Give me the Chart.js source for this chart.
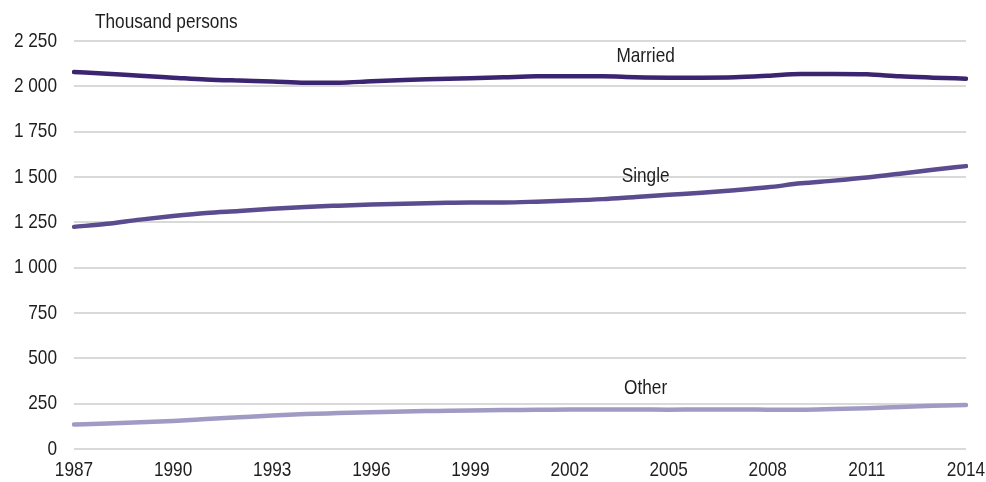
<!DOCTYPE html>
<html>
<head>
<meta charset="utf-8">
<script src="https://cdn.jsdelivr.net/npm/chart.js@4.4.1/dist/chart.umd.min.js"></script>
<style>
  html, body { margin: 0; padding: 0; background: #ffffff; }
  #wrap { width: 986px; height: 482px; position: relative; }
</style>
</head>
<body>
<div id="wrap"><canvas id="chart"></canvas></div>
<script>
// Data (thousand persons)
var years = [1987, 1988, 1989, 1990, 1991, 1992, 1993, 1994, 1995, 1996, 1997, 1998, 1999, 2000,
             2001, 2002, 2003, 2004, 2005, 2006, 2007, 2008, 2009, 2010, 2011, 2012, 2013, 2014];
var married = [2079, 2070, 2058, 2048, 2038, 2032, 2027, 2020, 2020, 2028, 2035, 2040, 2045, 2050,
               2055, 2055, 2055, 2050, 2048, 2048, 2050, 2058, 2068, 2068, 2066, 2055, 2048, 2042];
var single = [1225, 1242, 1265, 1285, 1302, 1313, 1325, 1335, 1342, 1348, 1353, 1357, 1360, 1360,
              1364, 1370, 1378, 1390, 1402, 1413, 1427, 1443, 1465, 1480, 1497, 1518, 1540, 1560];
var other = [135, 140, 147, 155, 165, 175, 185, 193, 198, 203, 207, 210, 213, 215,
             216, 218, 218, 218, 217, 218, 218, 217, 216, 220, 225, 232, 238, 243];
var seriesNames = ['Married', 'Single', 'Other'];
var unitLabel = 'Thousand persons';
var labelYear = 2004;

var FONT = "'Liberation Sans', Arial, sans-serif";
var TEXT = '#1e1e1e';

function fmt(v) {
  return String(v).replace(/\B(?=(\d{3})+(?!\d))/g, ' ');
}

// the reference uses a narrow face; squeeze the regular one horizontally
function narrowText(ctx, text, x, y, align) {
  ctx.save();
  ctx.translate(x, y);
  ctx.scale(0.82, 1);
  ctx.textAlign = align;
  ctx.fillText(text, 0, 0);
  ctx.restore();
}

var textLayer = {
  id: 'textLayer',
  afterDraw: function(chart) {
    var ctx = chart.ctx;
    var xs = chart.scales.x, ys = chart.scales.y;
    var area = chart.chartArea;
    ctx.save();
    ctx.font = '21px ' + FONT;
    ctx.fillStyle = TEXT;
    ctx.textBaseline = 'middle';

    // y tick labels
    ys.ticks.forEach(function(t) {
      narrowText(ctx, fmt(t.value), area.left - 17, ys.getPixelForValue(t.value), 'right');
    });
    // x tick labels, every third year
    years.forEach(function(yr, i) {
      if (i % 3 !== 0) return;
      narrowText(ctx, String(yr), xs.getPixelForValue(i), area.bottom + 21, 'center');
    });

    // series names above their lines
    var idx = years.indexOf(labelYear);
    chart.data.datasets.forEach(function(ds) {
      var x = xs.getPixelForValue(idx);
      var y = ys.getPixelForValue(ds.data[idx]);
      narrowText(ctx, ds.label, x + 10, y - 21, 'center');
    });

    narrowText(ctx, unitLabel, area.left + 21, area.top - 19, 'left');
    ctx.restore();
  }
};

var ctx = document.getElementById('chart').getContext('2d');
new Chart(ctx, {
  type: 'line',
  data: {
    labels: years.map(String),
    datasets: [
      { label: seriesNames[0], data: married, borderColor: '#3b2470' },
      { label: seriesNames[1], data: single, borderColor: '#5b4b8f' },
      { label: seriesNames[2], data: other, borderColor: '#a09bc4' }
    ]
  },
  options: {
    responsive: true,
    maintainAspectRatio: false,
    animation: false,
    layout: { padding: { top: 41, right: 20, left: 0, bottom: 0 } },
    elements: {
      line: { borderWidth: 4.5, tension: 0.4, cubicInterpolationMode: 'monotone', borderCapStyle: 'round' },
      point: { radius: 0 }
    },
    plugins: {
      legend: { display: false },
      tooltip: { enabled: false }
    },
    scales: {
      x: {
        offset: false,
        grid: { display: false },
        border: { display: false },
        ticks: { display: false, autoSkip: false },
        afterFit: function(scale) { scale.height = 33; }
      },
      y: {
        min: 0,
        max: 2250,
        afterFit: function(scale) { scale.width = 74; },
        grid: { color: '#d9d9d9', lineWidth: 2, drawTicks: false },
        border: { display: false },
        ticks: { display: false, stepSize: 250 }
      }
    }
  },
  plugins: [textLayer]
});
</script>
</body>
</html>
